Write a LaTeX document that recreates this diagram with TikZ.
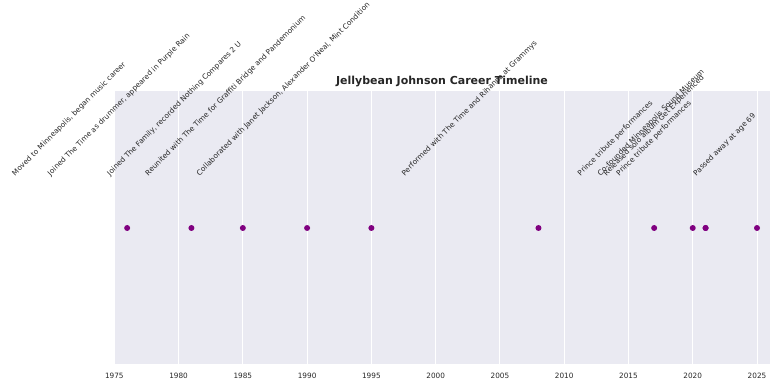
\documentclass[tikz,border=0pt]{standalone}
\usepackage{fontspec}
\setmainfont{DejaVu Sans}
\definecolor{axbg}{HTML}{EAEAF2}
\definecolor{evpurple}{HTML}{800080}
\definecolor{textgray}{HTML}{262626}
\newlength{\eventwd}
\newcommand{\eventfont}{\fontsize{7.3}{8.5}\selectfont}
\begin{document}
\begin{tikzpicture}[x=1pt,y=-1pt,
    event/.style={circle,fill=evpurple,minimum size=6pt,inner sep=0pt},
    eventlabel/.style={rotate=45,anchor=south west,inner sep=0pt,text depth=1.7pt,font=\eventfont,text=textgray},
    ticklabel/.style={anchor=base,inner sep=0pt,font=\fontsize{7.3}{8}\selectfont,text=textgray},
    gridline/.style={white,line width=0.9pt}]
\useasboundingbox (0,0) rectangle (780,390);

% Axes
\fill[axbg] (114.3,91) rectangle (769.9,364);
\foreach \yr in {1975,1980,...,2025} {
  \pgfmathsetmacro{\px}{114.3+(\yr-1975)*12.854}
  \draw[gridline] (\px,91) -- (\px,364);
  \node[ticklabel] (t\yr) at (\px,378.3) {\yr};
}

% Title
\node[anchor=base,inner sep=0pt,font=\fontsize{11}{13}\selectfont\bfseries,text=textgray] (title) at (442,85) {Jellybean Johnson Career Timeline};

% Events
\foreach \yr/\txt [count=\i] in {
    1976/{Moved to Minneapolis, began music career},
    1981/{Joined The Time as drummer, appeared in Purple Rain},
    1985/{Joined The Family, recorded Nothing Compares 2 U},
    1990/{Reunited with The Time for Graffiti Bridge and Pandemonium},
    1995/{Collaborated with Janet Jackson, Alexander O\textquotesingle Neal, Mint Condition},
    2008/{Performed with The Time and Rihanna at Grammys},
    2017/{Prince tribute performances},
    2020/{Prince tribute performances},
    2021/{Co-founded Minneapolis Sound Museum},
    2021/{Released solo album Get Experienced},
    2025/{Passed away at age 69}} {
  \pgfmathsetmacro{\px}{114.3+(\yr-1975)*12.854}
  \pgfinterruptpicture
    \settowidth{\eventwd}{\eventfont\txt}\global\eventwd=\eventwd
  \endpgfinterruptpicture
  \pgfmathsetmacro{\lx}{\px-0.7071*\eventwd}
  \node[event] (e\i) at (\px,228) {};
  \node[eventlabel] (l\i) at (\lx,177.5) {\txt};
}
\end{tikzpicture}
\end{document}
